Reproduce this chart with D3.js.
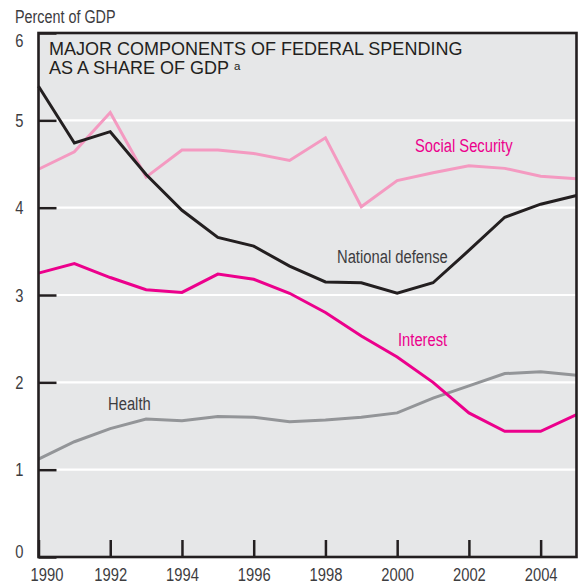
<!DOCTYPE html>
<html>
<head>
<meta charset="utf-8">
<script src="https://cdn.jsdelivr.net/npm/d3@7/dist/d3.min.js"></script>
<style>
  html, body { margin: 0; padding: 0; background: #fff; }
  svg { display: block; }
  .narrow { font-family: "Liberation Sans", Arial, sans-serif; }
</style>
</head>
<body>
<svg id="chart" width="580" height="586"></svg>
<script>
const years = [1990,1991,1992,1993,1994,1995,1996,1997,1998,1999,2000,2001,2002,2003,2004,2005];
const socialSecurity = [4.44,4.64,5.09,4.35,4.66,4.66,4.62,4.54,4.80,4.01,4.31,4.40,4.48,4.45,4.36,4.33];
const nationalDefense = [5.39,4.74,4.87,4.38,3.97,3.66,3.56,3.33,3.15,3.14,3.02,3.14,3.51,3.89,4.04,4.14];
const interest = [3.25,3.36,3.20,3.06,3.03,3.24,3.18,3.02,2.80,2.53,2.29,2.00,1.65,1.44,1.44,1.63];
const health = [1.12,1.32,1.47,1.58,1.56,1.61,1.60,1.55,1.57,1.60,1.65,1.82,1.96,2.10,2.12,2.08];
const seriesNames = ["Health","Social Security","Interest","National defense"];
const yTicks = [0,1,2,3,4,5,6];
const xTicks = [1990,1992,1994,1996,1998,2000,2002,2004];
const yAxisTitle = "Percent of GDP";
const titleLines = ["MAJOR COMPONENTS OF FEDERAL SPENDING", "AS A SHARE OF GDP"];
const titleNote = "a";

const svg = d3.select("#chart");
const L = 38.5, R = 576.5, T = 33, B = 557;
const x = d3.scaleLinear().domain([1990, 2005]).range([L, R]);
const y = d3.scaleLinear().domain([0, 6]).range([B, T]);
const ink = "#231f20";
const textCol = "#3d3d3f";

// background
svg.append("rect").attr("x", L).attr("y", T).attr("width", R - L).attr("height", B - T)
  .attr("fill", "#e6e7e8");

// gridlines
svg.append("g").selectAll("line").data(yTicks.filter(d => d > 0 && d < 6)).join("line")
  .attr("x1", L).attr("x2", R).attr("y1", d => y(d)).attr("y2", d => y(d))
  .attr("stroke", "#fff").attr("stroke-width", 2.2);

// lines
const series = [
  {name: seriesNames[0], values: health, color: "#939598"},
  {name: seriesNames[1], values: socialSecurity, color: "#f49ac1"},
  {name: seriesNames[2], values: interest, color: "#ec008c"},
  {name: seriesNames[3], values: nationalDefense, color: ink}
];
const line = d3.line().x((d, i) => x(years[i])).y(d => y(d));
svg.append("g").selectAll("path").data(series).join("path")
  .attr("d", d => line(d.values))
  .attr("fill", "none").attr("stroke", d => d.color)
  .attr("stroke-width", 3).attr("stroke-linejoin", "miter");

// y axis
const yAxis = svg.append("g").attr("transform", `translate(${L},0)`)
  .call(d3.axisLeft(y).tickValues(yTicks).tickFormat(d3.format("d")).tickSize(-18).tickPadding(15));
yAxis.select(".domain").remove();
yAxis.selectAll(".tick line").attr("stroke", ink).attr("stroke-width", 2.5);
yAxis.selectAll(".tick text").attr("class", "narrow").attr("font-size", 18).attr("fill", textCol)
  .attr("dy", d => d === 6 ? "0.76em" : d === 0 ? "0.0em" : "0.35em");

// x axis
const xAxis = svg.append("g").attr("transform", `translate(0,${B})`)
  .call(d3.axisBottom(x).tickValues(xTicks).tickFormat(d3.format("d")).tickSize(-17).tickPadding(11.5));
xAxis.select(".domain").remove();
xAxis.selectAll(".tick line").attr("stroke", ink).attr("stroke-width", 2.5);
xAxis.selectAll(".tick text").attr("class", "narrow").attr("font-size", 18).attr("fill", textCol)
  .attr("dx", d => d === 1990 ? 8 : 0);
svg.selectAll("g").attr("font-family", null);

// frame
svg.append("rect").attr("x", L).attr("y", T).attr("width", R - L).attr("height", B - T)
  .attr("fill", "none").attr("stroke", ink).attr("stroke-width", 2.6);

// axis title
svg.append("text").attr("class", "narrow").attr("x", 15).attr("y", 23)
  .attr("font-size", 17.5).attr("fill", textCol).text(yAxisTitle);

// chart title
const tFont = "'Liberation Sans', Arial, sans-serif";
svg.append("text").attr("font-family", tFont).attr("font-size", 18).attr("fill", ink)
  .attr("x", 49).attr("y", 55).text(titleLines[0]);
svg.append("text").attr("font-family", tFont).attr("font-size", 18).attr("fill", ink)
  .attr("x", 49).attr("y", 73.5).text(titleLines[1]);
svg.append("text").attr("font-family", tFont)
  .attr("font-size", 11.5).attr("fill", ink).attr("x", 234).attr("y", 69.5).text(titleNote);

// series labels
const labelPos = {
  "Social Security": [415, 152],
  "National defense": [337, 263],
  "Interest": [398, 346],
  "Health": [108, 410]
};
const labelColor = {
  "Social Security": "#ec008c",
  "National defense": textCol,
  "Interest": "#ec008c",
  "Health": textCol
};
svg.append("g").selectAll("text").data(series).join("text")
  .attr("class", "narrow")
  .attr("x", d => labelPos[d.name][0]).attr("y", d => labelPos[d.name][1])
  .attr("font-size", 18).attr("fill", d => labelColor[d.name])
  .text(d => d.name);

// condense the narrow texts horizontally (no condensed face installed)
svg.selectAll("text.narrow").each(function() {
  const w = this.getComputedTextLength();
  d3.select(this).attr("textLength", (w * 0.82).toFixed(1)).attr("lengthAdjust", "spacingAndGlyphs");
});
</script>
</body>
</html>
